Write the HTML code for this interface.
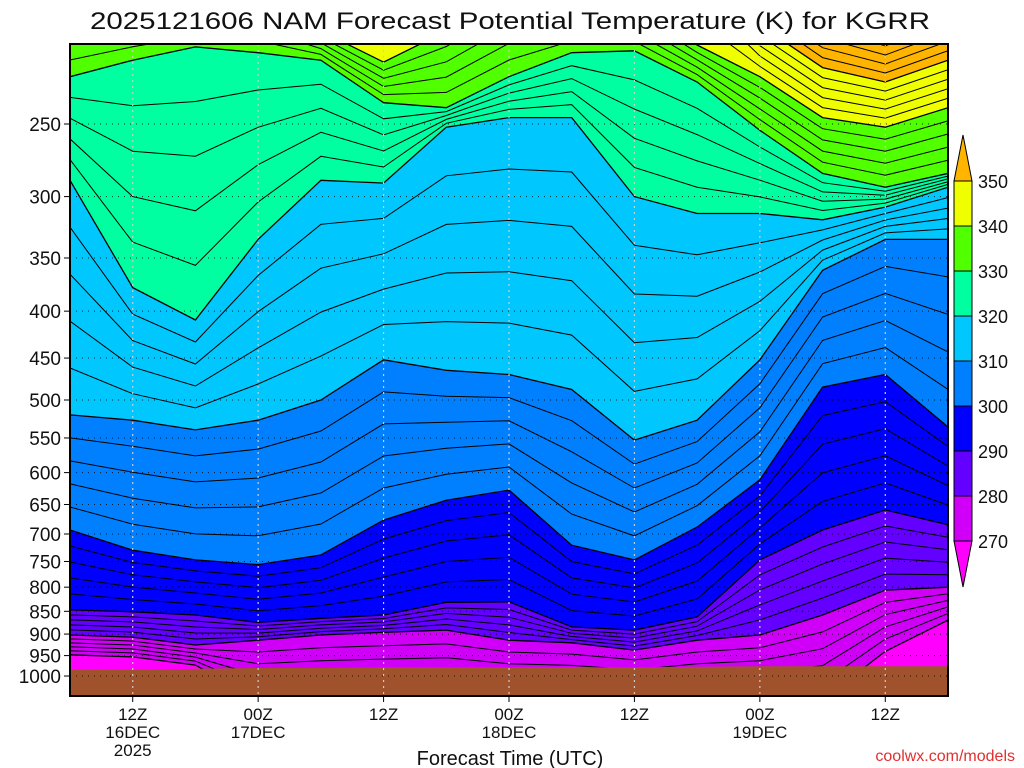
<!DOCTYPE html>
<html><head><meta charset="utf-8"><style>
html,body{margin:0;padding:0;background:#fff;width:1024px;height:768px;overflow:hidden}
svg text{font-family:"Liberation Sans",sans-serif;fill:#111}
</style></head><body>
<svg id="chart" width="1024" height="768" viewBox="0 0 1024 768" xmlns="http://www.w3.org/2000/svg">
<defs><clipPath id="plotclip"><rect x="70" y="44" width="878" height="652"/></clipPath></defs>
<text x="90" y="29" font-size="24" textLength="840" lengthAdjust="spacingAndGlyphs">2025121606 NAM Forecast Potential Temperature (K) for KGRR</text>
<g id="plot" clip-path="url(#plotclip)"></g>
<g id="axes"></g>
<rect x="70" y="44" width="878" height="652" fill="none" stroke="#000" stroke-width="2"/>
<g id="cbar"></g>
<text x="510" y="765" font-size="20" text-anchor="middle">Forecast Time (UTC)</text>
<text x="1015" y="761" font-size="16" text-anchor="end" style="fill:#e03030">coolwx.com/models</text>
</svg>
<script>
// ---- data ----
const times = [6,12,18,24,30,36,42,48,54,60,66,72,78,84,90];
const levels = [270,280,290,300,310,320,330,340,350];
const p270 = [948,953,973,1060,1060,1060,1060,1060,1060,1060,1060,1060,1060,940,869];
const p280 = [902,907,925,914,902,896,891,914,920,937,914,902,858,806,800];
const p290 = [847,851,858,874,865,858,831,830,884,891,862,747,693,659,684];
const p300 = [693,729,747,756,738,676,643,627,720,747,688,611,484,469,535];
const p310 = [519,526,539,526,500,452,464,469,487,553,526,452,361,334,334];
const p320 = [288,377,409,334,288,290,252,246,246,300,313,313,318,308,293];
const p330 = [222,213,206,209,213,237,240,222,209,208,225,254,283,293,283];
const p340 = [180,180,180,180,198,214,198,180,180,185,205,222,246,252,240];
const p350 = [150,150,150,150,150,150,150,150,150,150,150,195,217,225,213];
const pGround = [985,985,982,980,980,978,978,978,978,978,977,976,976,976,976];
const pTicks = [250,300,350,400,450,500,550,600,650,700,750,800,850,900,950,1000];
const tTicks = [12,24,36,48,60,72,84];
const tLabels = [["12Z","16DEC","2025"],["00Z","17DEC"],["12Z"],["00Z","18DEC"],["12Z"],["00Z","19DEC"],["12Z"]];
const cbLabels = [350,340,330,320,310,300,290,280,270];
// ---- scales ----
const X = t => 70 + (t-6)*878/84;
const Y = p => 124 + 398.2*Math.log(p/250);
const NS="http://www.w3.org/2000/svg";
function mk(tag, parent, attrs){const e=document.createElementNS(NS,tag);for(const k in attrs)e.setAttribute(k,attrs[k]);parent.appendChild(e);return e;}
const plot=document.getElementById('plot');
const bounds=[p270,p280,p290,p300,p310,p320,p330,p340,p350];
const colors=["#d000f8","#6400ff","#0000ff","#0080ff","#00c8ff","#00ffa0","#50ff00","#f0ff00","#ffb400"];
let bg=mk('rect',plot,{x:70,y:44,width:878,height:652,fill:"#ff00ff"});


const pts = arr => arr.map((p,i)=>X(times[i]).toFixed(1)+","+Y(p).toFixed(1));
bounds.forEach((arr,j)=>{
  const d="M70,0 L"+pts(arr).join(" L")+" L948,0 Z";
  const el=mk('path',plot,{d:d,fill:colors[j]});
  
  
});
// thin intermediate 2K contours
for(let j=0;j<bounds.length-1;j++){
  for(let k=1;k<5;k++){
    const d="M"+bounds[j].map((p,i)=>{const y0=Y(p),y1=Y(bounds[j+1][i]);return X(times[i]).toFixed(1)+","+(y0+(y1-y0)*k/5).toFixed(1);}).join(" L");
    const el=mk('path',plot,{d:d,fill:"none",stroke:"#000","stroke-width":1});
    
    
  }
}
// extra lines above 350
for(let k=1;k<5;k++){
  const d="M"+p350.map((p,i)=>{const y0=Y(p),y1=Y(p340[i]);return X(times[i]).toFixed(1)+","+(y0-(y1-y0)*k/5).toFixed(1);}).join(" L");
  const el=mk('path',plot,{d:d,fill:"none",stroke:"#000","stroke-width":1});
  
  
}
bounds.forEach((arr,j)=>{
  const el=mk('path',plot,{d:"M"+pts(arr).join(" L"),fill:"none",stroke:"#000","stroke-width":1.3});
  
  
});
const g=mk('path',plot,{d:"M70,800 L"+pts(pGround).join(" L")+" L948,800 Z",fill:"#a0522d"});


// grid
pTicks.forEach(p=>{
  const l=mk('line',plot,{x1:70,x2:948,y1:Y(p),y2:Y(p),stroke:"#000","stroke-width":1,"stroke-dasharray":"1,5",opacity:0.8});
  
  
});
tTicks.forEach(t=>{
  const l=mk('line',plot,{x1:X(t),x2:X(t),y1:44,y2:696,stroke:"#ccc","stroke-width":1.2,"stroke-dasharray":"2,4"});
  
  
});
// axes
const ax=document.getElementById('axes');
pTicks.forEach(p=>{
  const y=Y(p);
  const tk=mk('line',ax,{x1:64,x2:70,y1:y,y2:y,stroke:"#000","stroke-width":1});
  
  
  const tx=mk('text',ax,{x:61,y:y+7,"font-size":19,"text-anchor":"end"});
  tx.textContent=p;
  
  
});
tTicks.forEach((t,i)=>{
  const x=X(t);
  const tk=mk('line',ax,{x1:x,x2:x,y1:696,y2:702,stroke:"#000","stroke-width":1});
  
  
  tLabels[i].forEach((s,r)=>{
    const tx=mk('text',ax,{x:x,y:720+r*18,"font-size":17,"text-anchor":"middle"});
    tx.textContent=s;
    
    
  });
});
// colorbar
const cb=document.getElementById('cbar');
const cbTop=181, cbStep=45, cx0=954, cx1=972;
const t1=mk('polygon',cb,{points:`${cx0},${cbTop} ${cx1},${cbTop} ${(cx0+cx1)/2},135`,fill:colors[8],stroke:"#000"});


for(let i=0;i<8;i++){
  const r=mk('rect',cb,{x:cx0,y:cbTop+i*cbStep,width:cx1-cx0,height:cbStep,fill:colors[7-i],stroke:"#000"});
  
  
}
const yb=cbTop+8*cbStep;
const t2=mk('polygon',cb,{points:`${cx0},${yb} ${cx1},${yb} ${(cx0+cx1)/2},587`,fill:"#ff00ff",stroke:"#000"});


cbLabels.forEach((v,i)=>{
  const tx=mk('text',cb,{x:978,y:cbTop+i*cbStep+7,"font-size":18});
  tx.textContent=v;
  
  
});
</script>
</body></html>
